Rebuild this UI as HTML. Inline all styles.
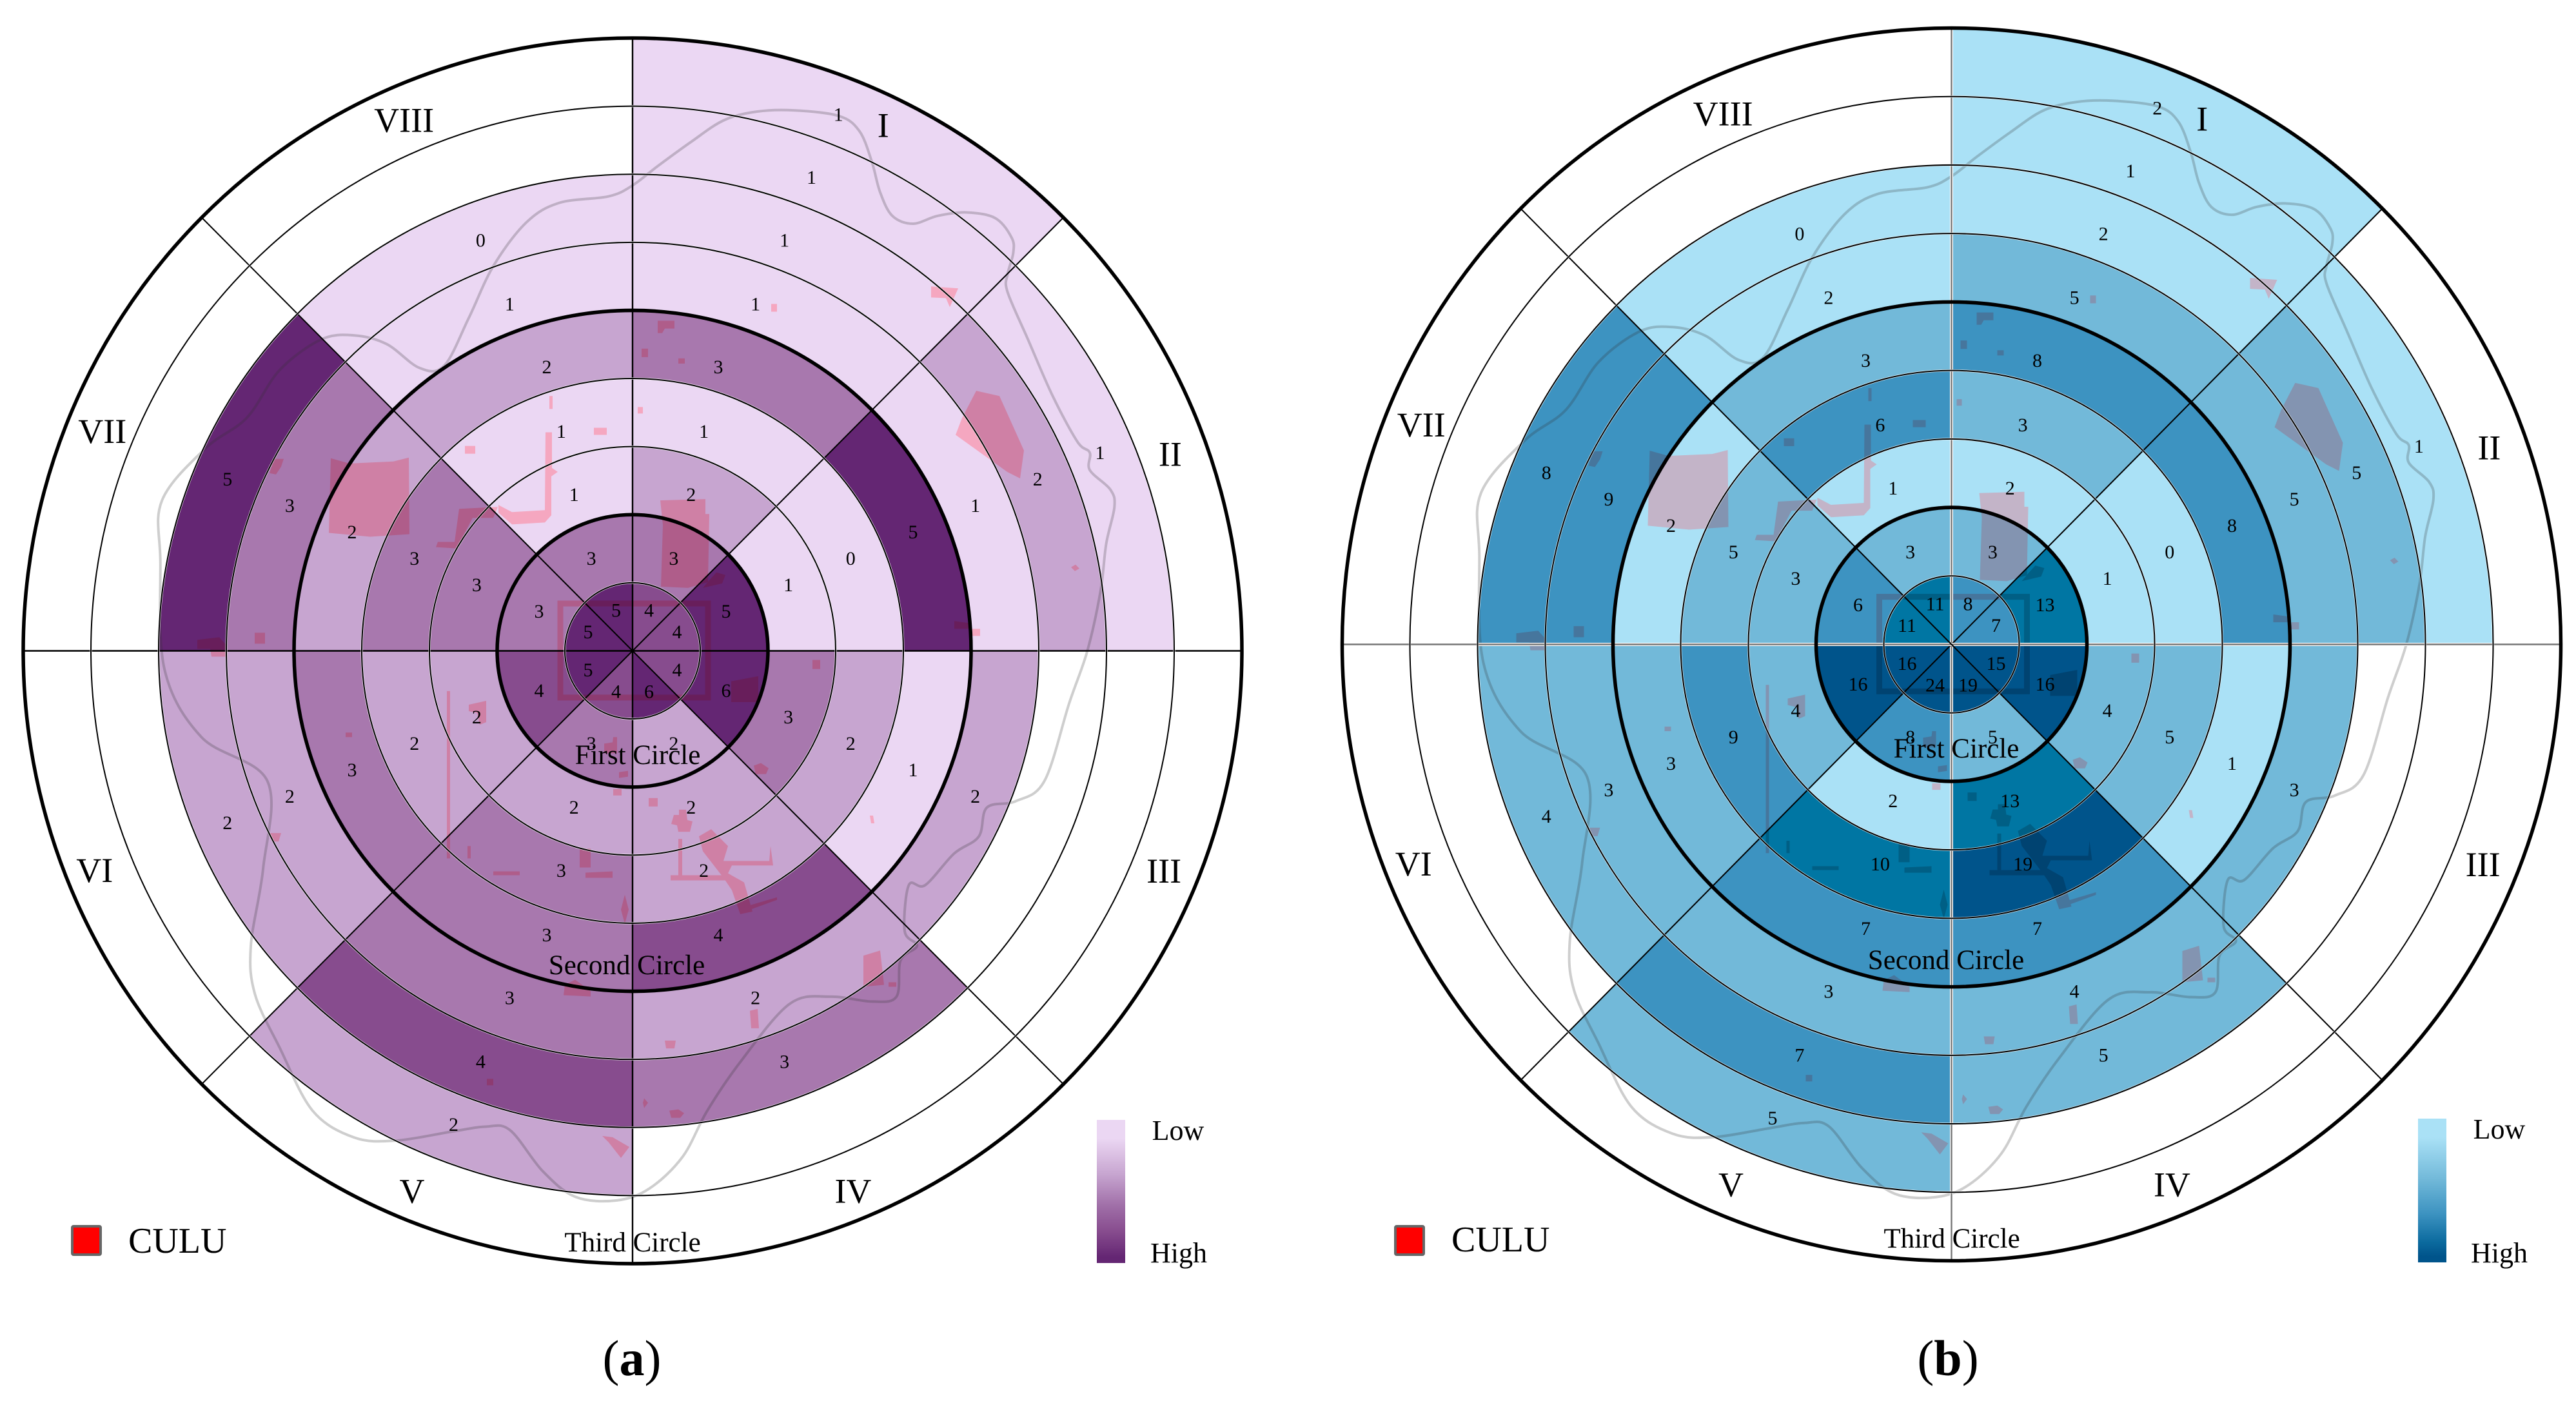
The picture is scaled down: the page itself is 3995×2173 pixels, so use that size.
<!DOCTYPE html>
<html lang="en">
<head>
<meta charset="utf-8">
<title>Polar sector charts</title>
<style>
html,body{margin:0;padding:0;background:#fff;}
svg{display:block;}
text{font-family:"Liberation Serif",serif;fill:#000;}
</style>
</head>
<body>
<svg id="figure" xmlns="http://www.w3.org/2000/svg" width="3995" height="2173" viewBox="0 0 3995 2173">
  <defs>
    <linearGradient id="gradA" x1="0" y1="0" x2="0" y2="1">
      <stop offset="0.13" stop-color="#ebd7f3"/>
      <stop offset="0.38" stop-color="#c7a5d0"/>
      <stop offset="0.6" stop-color="#a06fa8"/>
      <stop offset="0.78" stop-color="#874c8e"/>
      <stop offset="0.96" stop-color="#642673"/>
    </linearGradient>
    <linearGradient id="gradB" x1="0" y1="0" x2="0" y2="1">
      <stop offset="0.13" stop-color="#aae1f6"/>
      <stop offset="0.42" stop-color="#72b9d9"/>
      <stop offset="0.66" stop-color="#3d93c1"/>
      <stop offset="0.86" stop-color="#0b6a9e"/>
      <stop offset="0.96" stop-color="#00548b"/>
    </linearGradient>
  </defs>

  <g id="panel-a"></g>
  <g id="panel-b"></g>

  <g>
    <text x="989" y="1185" font-size="43" text-anchor="middle">First Circle</text>
    <text x="972" y="1511" font-size="43" text-anchor="middle">Second Circle</text>
    <text x="981" y="1941" font-size="43" text-anchor="middle">Third Circle</text>
    <rect x="112" y="1902" width="44" height="44" rx="2" fill="#ff0000" stroke="#666" stroke-width="4"/>
    <text x="199" y="1943" font-size="56">CULU</text>
    <rect x="1701" y="1737" width="44" height="222" fill="url(#gradA)"/>
    <text x="1827" y="1768" font-size="44" text-anchor="middle">Low</text>
    <text x="1828" y="1958" font-size="44" text-anchor="middle">High</text>
    <text x="980" y="2133" font-size="78" text-anchor="middle">(<tspan font-weight="bold">a</tspan>)</text>
  </g>

  <g>
    <text x="3034" y="1175" font-size="43" text-anchor="middle">First Circle</text>
    <text x="3018" y="1503" font-size="43" text-anchor="middle">Second Circle</text>
    <text x="3027" y="1935" font-size="43" text-anchor="middle">Third Circle</text>
    <rect x="2164" y="1902" width="44" height="44" rx="2" fill="#ff0000" stroke="#666" stroke-width="4"/>
    <text x="2251" y="1941" font-size="56">CULU</text>
    <rect x="3750" y="1735" width="44" height="223" fill="url(#gradB)"/>
    <text x="3876" y="1766" font-size="44" text-anchor="middle">Low</text>
    <text x="3876" y="1958" font-size="44" text-anchor="middle">High</text>
    <text x="3021" y="2133" font-size="78" text-anchor="middle">(<tspan font-weight="bold">b</tspan>)</text>
  </g>
</svg>

<script>
// Sector categories, clockwise from north
const categories = ['I','II','III','IV','V','VI','VII','VIII'];

// Panel (a) counts per sector, inner ring to outer ring
const aI    = [4,3,2,1,3,1,1,1,1];
const aII   = [4,5,1,0,5,1,2,1];
const aIII  = [4,6,3,2,1,2];
const aIV   = [6,2,2,2,4,2,3];
const aV    = [4,3,2,3,3,3,4,2];
const aVI   = [5,4,2,2,3,2,2];
const aVII  = [5,3,3,3,2,3,5];
const aVIII = [5,3,1,1,2,1,0];

// Panel (b) counts per sector, inner ring to outer ring
const bI    = [8,3,2,3,8,5,2,1,2];
const bII   = [7,13,1,0,8,5,5,1];
const bIII  = [15,16,4,5,1,3];
const bIV   = [19,5,13,19,7,4,5];
const bV    = [24,8,2,10,7,3,7,5];
const bVI   = [16,16,4,9,3,3,4];
const bVII  = [11,6,3,5,2,9,8];
const bVIII = [11,3,1,6,3,2,0];

// Class upper limits and colours
const aBreaks = [1,2,3,4];
const aColours = ['#ebd7f3','#c7a5d0','#a878ae','#874c8e','#642673'];
const bBreaks = [2,5,9,13];
const bColours = ['#aae1f6','#72b9d9','#3d93c1','#0076a3','#00548b'];

const panelASeries = [aI,aII,aIII,aIV,aV,aVI,aVII,aVIII];
const panelBSeries = [bI,bII,bIII,bIV,bV,bVI,bVII,bVIII];

const NS = 'http://www.w3.org/2000/svg';
const RING_COUNT = 9;
const RING_WIDTH = 105;
const THICK_RINGS = [2,5,9];

function rScale(ring){ return ring * RING_WIDTH; }
function aScale(sector){ return sector * 45 * Math.PI / 180; }
function colourFor(v, breaks, colours){
  for (let i = 0; i < breaks.length; i++) { if (v <= breaks[i]) return colours[i]; }
  return colours[colours.length - 1];
}
function pt(r, a){ return [r * Math.sin(a), -r * Math.cos(a)]; }
function cellPath(s, i){
  const r0 = rScale(i), r1 = rScale(i + 1), a0 = aScale(s), a1 = aScale(s + 1);
  const p1 = pt(r1, a0), p2 = pt(r1, a1), p3 = pt(r0, a1), p4 = pt(r0, a0);
  let d = 'M' + p1[0] + ' ' + p1[1] + 'A' + r1 + ' ' + r1 + ' 0 0 1 ' + p2[0] + ' ' + p2[1];
  if (r0 === 0) return d + 'L0 0Z';
  return d + 'L' + p3[0] + ' ' + p3[1] + 'A' + r0 + ' ' + r0 + ' 0 0 0 ' + p4[0] + ' ' + p4[1] + 'Z';
}
function make(parent, tag, attrs){
  const el = document.createElementNS(NS, tag);
  for (const k in attrs) el.setAttribute(k, attrs[k]);
  parent.appendChild(el);
  return el;
}

// Built-up land patches, in left-panel pixels
const mapPatches = [
  '513,712 542,720 610,717 634,711 635,829 574,833 510,827',
  '1024,777 1094,775 1094,798 1100,798 1098,903 1067,912 1025,910 1028,815',
  '846,672 856,672 856,727 865,733 855,740 855,800 845,811 794,814 773,796 773,784 794,795 845,792',
  '712,790 772,787 765,804 733,804 708,851 676,849 679,841 705,841',
  '1514,608 1550,616 1588,700 1582,743 1562,733 1482,676 1492,650',
  '1444,447 1486,450 1473,479 1467,465 1444,464',
  '1020,500 1046,500 1046,512 1031,512 1027,519 1020,519',
  '995,543 1005,543 1005,556 995,556',
  '1052,558 1062,558 1062,566 1052,566',
  '852,616 857,616 857,636 852,636',
  '921,665 941,665 941,676 921,676',
  '721,693 737,693 737,705 721,705',
  '989,633 997,633 997,643 989,643',
  '1134,1056 1176,1048 1176,1088 1134,1088',
  '1111,888 1125,892 1120,905 1090,912 1100,900',
  '937,1152 950,1150 951,1142 957,1142 957,1167 937,1167',
  '1006,1236 1020,1236 1020,1249 1006,1249',
  '1045,1262 1053,1262 1053,1254 1064,1254 1066,1270 1074,1272 1070,1288 1052,1288 1050,1278 1041,1276',
  '951,1222 964,1222 964,1232 951,1232',
  '960,1196 974,1194 974,1203 960,1205',
  '727,1092 754,1086 754,1119 744,1123 740,1105 727,1102',
  '1260,1023 1272,1023 1272,1037 1260,1037',
  '1169,1186 1180,1182 1192,1190 1188,1199 1172,1199',
  '1084,1295 1103,1284 1129,1310 1122,1333 1193,1333 1195,1310 1199,1340 1135,1340 1129,1352 1154,1366 1167,1411 1148,1415 1135,1378 1122,1359 1090,1318',
  '1040,1355 1129,1355 1129,1363 1040,1363',
  '1052,1299 1058,1299 1058,1355 1052,1355',
  '1154,1404 1205,1389 1205,1393 1158,1410',
  '899,1314 916,1314 916,1343 899,1343',
  '765,1349 806,1349 806,1355 765,1355',
  '908,1351 950,1349 950,1359 908,1359',
  '969,1385 975,1408 969,1430 963,1408',
  '725,1310 730,1310 730,1329 725,1329',
  '693,1071 698,1071 698,1329 693,1329',
  '418,1290 436,1290 432,1303 422,1303',
  '876,1524 892,1516 916,1534 916,1542 874,1540',
  '1339,1479 1365,1471 1371,1524 1339,1527',
  '1378,1520 1390,1520 1390,1527 1378,1527',
  '1163,1564 1175,1561 1177,1591 1165,1591',
  '1031,1610 1048,1610 1046,1622 1033,1622',
  '999,1699 1005,1706 999,1714 997,1706',
  '1038,1718 1052,1716 1061,1722 1055,1729 1041,1729',
  '934,1757 950,1759 976,1774 963,1791 944,1767',
  '755,1669 765,1669 765,1679 755,1679',
  '306,992 340,988 351,1000 350,1018 328,1018 326,1006 306,1006',
  '395,981 411,981 411,998 395,998',
  '418,735 425,713 440,713 436,725 428,737',
  '1508,975 1520,975 1520,986 1508,986',
  '1480,963 1502,966 1502,975 1480,975',
  '1349,1263 1354,1263 1356,1275 1351,1275',
  '536,1135 546,1135 546,1142 536,1142',
  '1661,880 1668,876 1674,882 1667,886',
  '1196,474 1205,474 1205,486 1196,486'
];

// Study-area outline, read from the top of the boundary clockwise
const outlineTop = [[769,435],[800,390],[840,335],[880,285],[920,265],[965,262],[1020,275],[1045,310],[1060,380],[1070,450],[1085,505],[1110,523],[1140,505],[1175,497],[1210,510],[1230,555],[1232,590],[1225,640],[1225,680],[1250,790],[1280,920],[1310,1025],[1325,1050],[1325,1090],[1350,1135],[1355,1175],[1345,1260],[1338,1370],[1322,1507]];
const outlineBottom = [[1300,120],[1270,280],[1235,322],[1200,335],[1190,395],[1160,430],[1125,495],[1105,495],[1100,590],[1115,620],[1095,650],[1090,725],[1060,735],[1010,725],[960,740],[900,860],[860,960],[830,1055],[790,1120],[750,1145],[700,1138],[660,1085],[620,1000],[590,993],[550,1003],[480,1022],[430,1015],[380,960],[340,830],[310,720],[305,620],[320,460],[325,280],[245,190],[200,50]];
const outlineLeft = [[195,1300],[197,1160],[250,1040],[300,970],[340,860],[390,790],[430,780],[470,800],[510,855],[540,850],[570,740],[600,620],[640,520],[680,475],[740,460]];

function outlinePoints(){
  const pts = [];
  outlineTop.forEach(function(p){ pts.push([p[0] / 0.784, p[1] / 1.493]); });
  outlineBottom.forEach(function(p){ pts.push([p[0] / 0.784, 1000 + p[1] / 1.337]); });
  outlineLeft.forEach(function(p){ pts.push([p[0] / 0.784, p[1] / 1.493]); });
  return pts;
}
function smoothClosed(pts){
  const n = pts.length;
  let d = 'M' + pts[0][0] + ' ' + pts[0][1];
  for (let i = 0; i < n; i++) {
    const p0 = pts[(i - 1 + n) % n], p1 = pts[i], p2 = pts[(i + 1) % n], p3 = pts[(i + 2) % n];
    d += 'C' + (p1[0] + (p2[0] - p0[0]) / 6) + ' ' + (p1[1] + (p2[1] - p0[1]) / 6) + ' ' +
         (p2[0] - (p3[0] - p1[0]) / 6) + ' ' + (p2[1] - (p3[1] - p1[1]) / 6) + ' ' + p2[0] + ' ' + p2[1];
  }
  return d + 'Z';
}

// Layout of printed labels: hand-placed in the source figure
function isNearVertical(sector){ return sector === 0 || sector === 3 || sector === 4 || sector === 7; }
function labelXY(sector, ring){
  const upperRadius = [68,157,259,358,460,571,679,785,891];
  const upperAngle = [22,24,20.5,18,16.8,19.5,20.3,20.7,21];
  let deg, r;
  if (isNearVertical(sector)) {
    r = upperRadius[ring];
    const off = upperAngle[ring];
    deg = sector === 0 ? off : sector === 3 ? 180 - off : sector === 4 ? 180 + off : 360 - off;
  } else {
    r = ring === 0 ? 75 : rScale(ring) + RING_WIDTH / 2;
    deg = sector * 45 + 22.5 + (sector === 1 || sector === 5 ? -0.5 : 0.5);
  }
  return pt(r, deg * Math.PI / 180);
}
function sectorNameXY(sector){
  const degs = [25.5,69.9,112.5,157.8,202.2,247.8,292.5,336.7];
  const radii = [903,888,892,905,905,901,890,896];
  return pt(radii[sector], degs[sector] * Math.PI / 180);
}

function drawPanel(id, cx, cy, ky, series, breaks, colours, patchMultiply, patchDodge, axisColour){
  const root = document.getElementById(id);
  const plot = make(root, 'g', {transform: 'translate(' + cx + ' ' + cy + ') scale(1 ' + ky + ')'});

  series.forEach(function(values, s){
    values.forEach(function(v, i){
      const cell = make(plot, 'path', {d: cellPath(s, i), fill: colourFor(v, breaks, colours)});
      
      
    });
  });

  [[patchMultiply, 'multiply'], [patchDodge, 'color-dodge']].forEach(function(layer){
    const patchGroup = make(plot, 'g', {transform: 'translate(-981 -1009)', fill: layer[0], style: 'mix-blend-mode:' + layer[1]});
    
    
    mapPatches.forEach(function(points){ make(patchGroup, 'polygon', {points: points}); });
    make(patchGroup, 'rect', {x: 869, y: 936, width: 229, height: 145, fill: 'none', stroke: layer[0], 'stroke-width': 9});
  });

  const outline = make(plot, 'path', {transform: 'translate(-981 -1009)', d: smoothClosed(outlinePoints()), fill: 'none', stroke: 'rgba(50,50,50,0.24)', 'stroke-width': 4});
  
  

  for (let s = 0; s < 4; s++) {
    const a = pt(rScale(RING_COUNT), aScale(s));
    const isAxis = s % 2 === 0;
    const halo = make(plot, 'line', {x1: -a[0], y1: -a[1], x2: a[0], y2: a[1], stroke: '#fff', 'stroke-width': isAxis && axisColour !== '#000' ? 5 : 0});
    
    
    const spoke = make(plot, 'line', {x1: -a[0], y1: -a[1], x2: a[0], y2: a[1], stroke: isAxis ? axisColour : '#000', 'stroke-width': isAxis ? 2.4 : 2});
    
    
  }

  for (let ring = 1; ring <= RING_COUNT; ring++) {
    const r = rScale(ring);
    const thick = THICK_RINGS.indexOf(ring) >= 0;
    if (!thick) {
      const h = make(plot, 'circle', {r: r, fill: 'none', stroke: '#fff', 'stroke-width': 3.4, opacity: 0.8});
      
      
    }
    const c = make(plot, 'circle', {r: r, fill: 'none', stroke: '#000', 'stroke-width': thick ? 5.5 : 2});
    
    
  }

  series.forEach(function(values, s){
    values.forEach(function(v, i){
      const p = labelXY(s, i);
      const t = make(root, 'text', {x: cx + p[0], y: cy + p[1] + 10, 'font-size': 30, 'text-anchor': 'middle'});
      t.textContent = v;
      
      
    });
    const q = sectorNameXY(s);
    const name = make(root, 'text', {x: cx + q[0], y: cy + q[1] + 18, 'font-size': 54, 'text-anchor': 'middle'});
    name.textContent = categories[s];
    
    
  });
}

drawPanel('panel-a', 981, 1009.5, 950.5 / 945, panelASeries, aBreaks, aColours, 'rgb(255,198,202)', 'rgb(10,0,0)', '#000');
drawPanel('panel-b', 3026.5, 999.5, 956 / 945, panelBSeries, bBreaks, bColours, 'rgb(255,204,208)', 'rgb(33,0,0)', '#777');
</script>
</body>
</html>
